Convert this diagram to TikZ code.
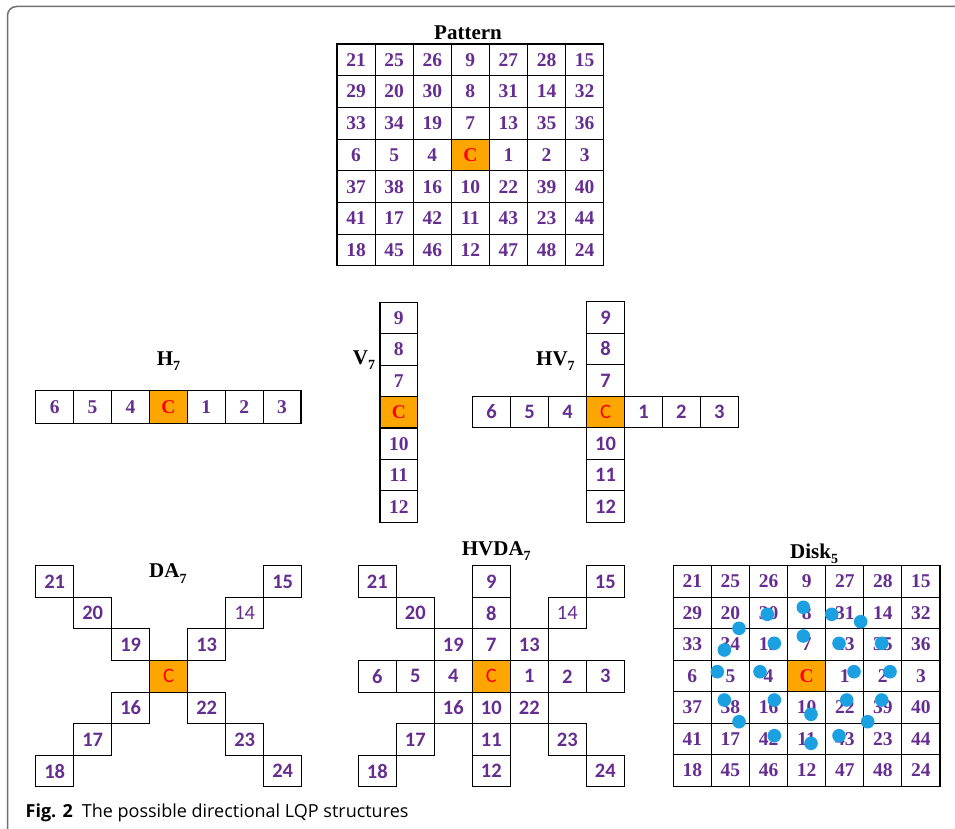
\documentclass[tikz,border=0pt]{standalone}
\usepackage{fontspec}
\setmainfont{Liberation Serif}
\newfontfamily\carlfont{Carlito}
\newfontfamily\capfont{Open Sans}
\definecolor{numpurple}{RGB}{102,45,145}
\definecolor{corange}{RGB}{255,165,0}
\definecolor{dotblue}{RGB}{27,160,226}
\definecolor{framegray}{RGB}{112,112,112}
\tikzset{
  cellbox/.style={draw=black, line width=1.1pt, minimum width=\cw pt, minimum height=\ch pt, inner sep=0pt, anchor=center},
  serifnum/.style={text=numpurple, font=\fontsize{19.5}{19.5}\selectfont\bfseries},
  serifC/.style={fill=corange, text=red, font=\fontsize{19.5}{19.5}\selectfont\bfseries},
  sansnum/.style={text=numpurple, font=\carlfont\fontsize{20.5}{20.5}\selectfont\bfseries},
  sanslight/.style={text=numpurple, font=\carlfont\fontsize{20.5}{20.5}\selectfont},
  sansC/.style={fill=corange, text=red, font=\carlfont\fontsize{20.5}{20.5}\selectfont},
  titlelab/.style={anchor=base west, inner sep=0pt, font=\fontsize{21}{21}\selectfont\bfseries},
  bluedot/.style={fill=dotblue},
}
\newcommand\sub[1]{\raisebox{-5.5pt}{\fontsize{14}{14}\selectfont #1}}
\newcommand\cellnode[5]{\node[cellbox,#5] (#1) at ({\xo+(#2+0.5)*\cw},{\yo+(#3+0.5)*\ch}) {#4};}
\newcommand\biggrid[1]{%
  \foreach \rowlist [count=\r from 0] in {{21,25,26,9,27,28,15},{29,20,30,8,31,14,32},{33,34,19,7,13,35,36},{6,5,4,C,1,2,3},{37,38,16,10,22,39,40},{41,17,42,11,43,23,44},{18,45,46,12,47,48,24}}{
    \foreach \v [count=\c from 0] in \rowlist {
      \def\cc{C}\edef\vv{\v}%
      \ifx\vv\cc
        \cellnode{#1-\r-\c}{\c}{\r}{C}{serifC}
      \else
        \cellnode{#1-\r-\c}{\c}{\r}{\v}{serifnum}
      \fi
    }
  }}
\begin{document}
\begin{tikzpicture}[x=1pt,y=-1pt]
\useasboundingbox (0,0) rectangle (955,829);
\clip (0,0) rectangle (955,829);
% frame
\draw[framegray, line width=1.5pt, rounded corners=9pt] (40,838) -- (7.5,838) -- (7.5,6.5) -- (975,6.5);

% Pattern
\node[titlelab] (lab-pat) at (434,40) {Pattern};
\def\xo{337}\def\yo{44}\def\cw{38.1}\def\ch{31.7}
\biggrid{pat}

% H7
\node[titlelab] (lab-h) at (156.7,365) {H\sub{7}};
\def\xo{35.7}\def\yo{390.7}\def\cw{37.9}\def\ch{32.6}
\cellnode{h6}{0}{0}{6}{serifnum}
\cellnode{h5}{1}{0}{5}{serifnum}
\cellnode{h4}{2}{0}{4}{serifnum}
\cellnode{hC}{3}{0}{C}{serifC}
\cellnode{h1}{4}{0}{1}{serifnum}
\cellnode{h2}{5}{0}{2}{serifnum}
\cellnode{h3}{6}{0}{3}{serifnum}

% V7
\node[titlelab] (lab-v) at (352.7,364) {V\sub{7}};
\def\xo{380}\def\yo{302.3}\def\cw{37.7}\def\ch{31.43}
\cellnode{v9}{0}{0}{9}{serifnum}
\cellnode{v8}{0}{1}{8}{serifnum}
\cellnode{v7}{0}{2}{7}{serifnum}
\cellnode{vC}{0}{3}{C}{serifC}
\cellnode{v10}{0}{4}{10}{serifnum}
\cellnode{v11}{0}{5}{11}{serifnum}
\cellnode{v12}{0}{6}{12}{serifnum}

% HV7
\node[titlelab] (lab-hv) at (536,365) {HV\sub{7}};
\def\xo{472.7}\def\yo{301.7}\def\cw{37.95}\def\ch{31.5}
\cellnode{hv9}{3}{0}{9}{sansnum}
\cellnode{hv8}{3}{1}{8}{sansnum}
\cellnode{hv7}{3}{2}{7}{sansnum}
\cellnode{hv6}{0}{3}{6}{sansnum}
\cellnode{hv5}{1}{3}{5}{sansnum}
\cellnode{hv4}{2}{3}{4}{sansnum}
\cellnode{hvC}{3}{3}{C}{sansC}
\cellnode{hv1}{4}{3}{1}{sansnum}
\cellnode{hv2}{5}{3}{2}{sansnum}
\cellnode{hv3}{6}{3}{3}{sansnum}
\cellnode{hv10}{3}{4}{10}{sansnum}
\cellnode{hv11}{3}{5}{11}{sansnum}
\cellnode{hv12}{3}{6}{12}{sansnum}

% DA7
\node[titlelab] (lab-da) at (149,577.7) {DA\sub{7}};
\def\xo{35.7}\def\yo{565.7}\def\cw{38}\def\ch{31.6}
\cellnode{da21}{0}{0}{21}{sansnum}
\cellnode{da20}{1}{1}{20}{sansnum}
\cellnode{da19}{2}{2}{19}{sansnum}
\cellnode{daC}{3}{3}{C}{sansC}
\cellnode{da13}{4}{2}{13}{sansnum}
\cellnode{da14}{5}{1}{14}{sanslight}
\cellnode{da15}{6}{0}{15}{sansnum}
\cellnode{da16}{2}{4}{16}{sansnum}
\cellnode{da17}{1}{5}{17}{sansnum}
\cellnode{da18}{0}{6}{18}{sansnum}
\cellnode{da22}{4}{4}{22}{sansnum}
\cellnode{da23}{5}{5}{23}{sansnum}
\cellnode{da24}{6}{6}{24}{sansnum}

% HVDA7
\node[titlelab] (lab-hvda) at (461.7,555) {HVDA\sub{7}};
\def\xo{358.3}\def\yo{565.7}\def\cw{38}\def\ch{31.6}
\cellnode{x21}{0}{0}{21}{sansnum}
\cellnode{x20}{1}{1}{20}{sansnum}
\cellnode{x19}{2}{2}{19}{sansnum}
\cellnode{x13}{4}{2}{13}{sansnum}
\cellnode{x14}{5}{1}{14}{sanslight}
\cellnode{x15}{6}{0}{15}{sansnum}
\cellnode{x16}{2}{4}{16}{sansnum}
\cellnode{x17}{1}{5}{17}{sansnum}
\cellnode{x18}{0}{6}{18}{sansnum}
\cellnode{x22}{4}{4}{22}{sansnum}
\cellnode{x23}{5}{5}{23}{sansnum}
\cellnode{x24}{6}{6}{24}{sansnum}
\cellnode{x9}{3}{0}{9}{sansnum}
\cellnode{x8}{3}{1}{8}{sansnum}
\cellnode{x7}{3}{2}{7}{sansnum}
\cellnode{x6}{0}{3}{6}{sansnum}
\cellnode{x5}{1}{3}{5}{sansnum}
\cellnode{x4}{2}{3}{4}{sansnum}
\cellnode{xC}{3}{3}{C}{sansC}
\cellnode{x1}{4}{3}{1}{sansnum}
\cellnode{x2}{5}{3}{2}{sansnum}
\cellnode{x3}{6}{3}{3}{sansnum}
\cellnode{x10}{3}{4}{10}{sansnum}
\cellnode{x11}{3}{5}{11}{sansnum}
\cellnode{x12}{3}{6}{12}{sansnum}

% Disk5
\node[titlelab] (lab-disk) at (790,558.3) {Disk\sub{5}};
\def\xo{673.3}\def\yo{565.7}\def\cw{38.1}\def\ch{31.5}
\biggrid{disk}
\foreach \px/\py in {767.3/614.3, 803.3/607.3, 831.7/614.3, 860.7/621.7, 739/628.3, 774.3/643.3, 803.3/636, 839/643.3, 881.7/643.3, 724.3/650, 717.3/671.7, 760/671.7, 854/671.7, 890/671.7, 724.3/700, 774.3/700, 846.7/700, 881.7/700, 811/714.3, 739/721.7, 867.7/721.7, 774.3/735.7, 839/735.7, 811/743.3}
  \fill[bluedot] (\px,\py) circle[radius=6.8];

% caption
\node[anchor=base west, inner sep=0pt, font=\capfont\fontsize{18}{18}\selectfont] (caption) at (25.5,817.5) {\textbf{Fig. 2}\hspace{0.5em}The possible directional LQP structures};
\end{tikzpicture}
\end{document}
